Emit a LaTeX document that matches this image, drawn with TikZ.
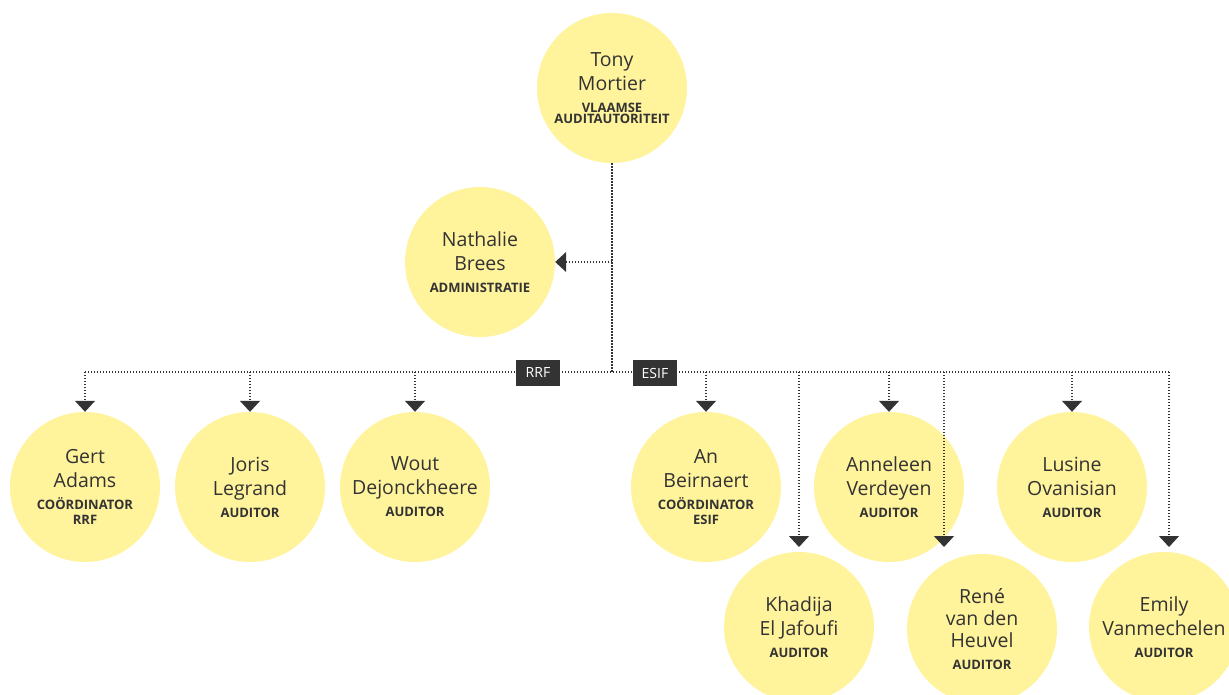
\documentclass[tikz,border=0pt]{standalone}
\usepackage{fontspec}
\setmainfont{Open Sans}
\usetikzlibrary{arrows.meta}
\definecolor{pyellow}{HTML}{FFF39C}
\definecolor{ink}{HTML}{333333}
\newcommand{\nm}{\fontsize{19.5}{14}\selectfont}
\newcommand{\rl}{\fontsize{13}{14}\selectfont\bfseries\lineskiplimit=-100pt\lineskip=0pt}
\tikzset{
  person/.style={circle, fill=pyellow, minimum size=150pt, inner sep=0pt, align=center, text=ink},
  conn/.style={draw=ink, line width=1.4pt, dash pattern=on 1.4pt off 1.6pt},
  arr/.style={conn, -{Triangle[width=20pt,length=11pt]}},
  tag/.style={fill=ink, text=white, minimum width=44pt, minimum height=26pt, inner sep=0pt, font=\fontsize{14}{14}\selectfont}
}
\begin{document}
\begin{tikzpicture}[x=1pt,y=-1pt]
\lineskiplimit=-100pt
\useasboundingbox (0,0) rectangle (1229,695);
\clip (0,0) rectangle (1229,695);
% persons
\node[person] (tony) at (612,88) {\nm Tony\\[12pt]\nm Mortier\\[10pt]\rl VLAAMSE\\[-1pt]\rl AUDITAUTORITEIT};
\node[person] (nathalie) at (480,262) {\nm Nathalie\\[12pt]\nm Brees\\[10pt]\rl ADMINISTRATIE};
\node[person] (gert) at (85,487) {\nm Gert\\[12pt]\nm Adams\\[10pt]\rl COÖRDINATOR\\[3pt]\rl RRF};
\node[person] (joris) at (250,487) {\nm Joris\\[12pt]\nm Legrand\\[10pt]\rl AUDITOR};
\node[person] (wout) at (415,487) {\nm Wout\\[12pt]\nm Dejonckheere\\[10pt]\rl AUDITOR};
\node[person] (an) at (706,487) {\nm An\\[12pt]\nm Beirnaert\\[10pt]\rl COÖRDINATOR\\[3pt]\rl ESIF};
\node[person] (anneleen) at (889,487) {\nm Anneleen\\[12pt]\nm Verdeyen\\[10pt]\rl AUDITOR};
\node[person] (lusine) at (1072,487) {\nm Lusine\\[12pt]\nm Ovanisian\\[10pt]\rl AUDITOR};
\node[person] (khadija) at (799,627) {\nm Khadija\\[12pt]\nm El Jafoufi\\[10pt]\rl AUDITOR};
\node[person] (rene) at (982,629) {\nm René\\[10pt]\nm van den\\[10pt]\nm Heuvel\\[10pt]\rl AUDITOR};
\node[person] (emily) at (1164,627) {\nm Emily\\[12pt]\nm Vanmechelen\\[10pt]\rl AUDITOR};
% bus
\coordinate (hub) at (612,372);
\coordinate (busl) at (85,372);
\coordinate (busr) at (1169,372);
\coordinate (kin) at (799,547);
\coordinate (rin) at (944,547);
\coordinate (ein) at (1169,547);
\draw[conn] (tony.south) -- (hub);
\draw[arr] (tony.south |- nathalie.east) -- (nathalie.east);
\draw[conn] (busl) -- (busr);
\draw[arr] (gert.north |- hub) -- (gert.north);
\draw[arr] (joris.north |- hub) -- (joris.north);
\draw[arr] (wout.north |- hub) -- (wout.north);
\draw[arr] (an.north |- hub) -- (an.north);
\draw[arr] (anneleen.north |- hub) -- (anneleen.north);
\draw[arr] (lusine.north |- hub) -- (lusine.north);
\draw[arr] (kin |- hub) -- (kin);
\draw[arr] (rin |- hub) -- (rin);
\draw[arr] (ein |- hub) -- (ein);
\node[tag] (rrf) at (538,373) {RRF};
\node[tag] (esif) at (655,373) {ESIF};
\end{tikzpicture}
\end{document}
